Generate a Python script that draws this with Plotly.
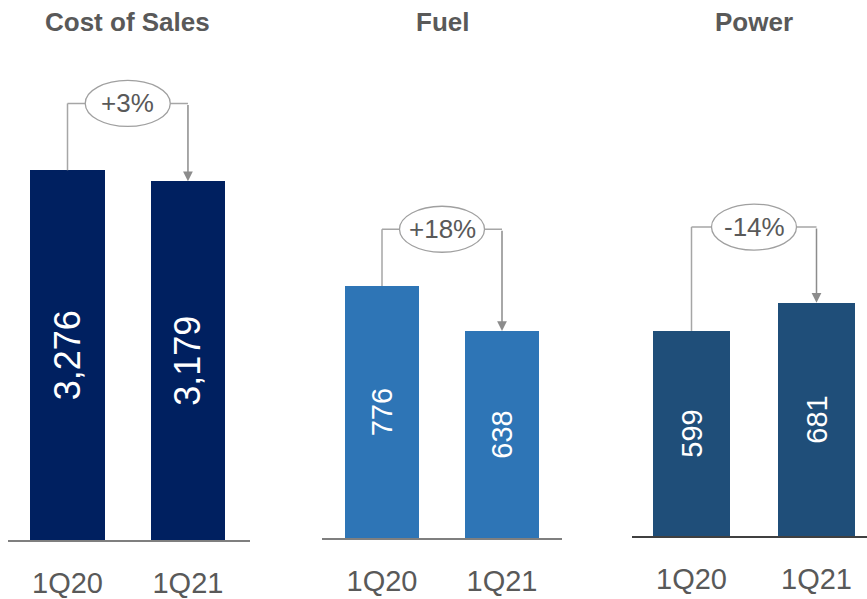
import plotly.graph_objects as go

# ---- data ----
categories = ["1Q20", "1Q21"]
panel_titles = ["Cost of Sales", "Fuel", "Power"]
cost_of_sales = [3276, 3179]
fuel = [776, 638]
power = [599, 681]
changes = ["+3%", "+18%", "-14%"]

series = [cost_of_sales, fuel, power]

# ---- layout / style settings ----
W, H = 867, 599
colors = ["#002060", "#2E75B6", "#1F4E79"]
axis_line_colors = ["#7F7F7F", "#7F7F7F", "#404040"]
baseline_px = [542, 540, 538]          # pixel y of each panel's baseline
top_px = 50                            # pixel y of top of plotting area
y_max = [4342, 1503, 1419]             # axis range maxima (per panel scale)
x_dom_px = [(8, 250), (322, 562), (632, 867)]
x_ranges = [[-0.494, 1.515], [-0.5, 1.5], [-0.476, 1.404]]
bracket_px_above = [67, 57, 76]
value_font_sizes = [36, 29, 29]
grey_text = "#595959"
connector_color = "#A6A6A6"
arrow_color = "#8C8C8C"
FONT = "Liberation Sans, Arial, sans-serif"

fig = go.Figure()
layout = dict(
    width=W, height=H,
    margin=dict(l=0, r=0, t=0, b=0),
    paper_bgcolor="white", plot_bgcolor="white",
    showlegend=False,
    bargap=0,
    font=dict(family=FONT, color=grey_text),
)

shapes = []
annotations = []

for i, vals in enumerate(series):
    n = "" if i == 0 else str(i + 1)
    xa, ya = "x" + n, "y" + n
    fig.add_trace(go.Bar(
        x=[0, 1], y=vals, width=0.62,
        marker=dict(color=colors[i], line=dict(width=0)),
        text=[f"{v:,}" for v in vals],
        textposition="inside", insidetextanchor="middle", textangle=-90,
        textfont=dict(color="white", size=value_font_sizes[i], family=FONT),
        xaxis=xa, yaxis=ya, hoverinfo="skip",
    ))
    x0p, x1p = x_dom_px[i]
    layout["xaxis" + n] = dict(
        domain=[x0p / W, x1p / W], range=x_ranges[i],
        tickvals=[0, 1], ticktext=categories,
        showline=True, linecolor=axis_line_colors[i], linewidth=2,
        ticks="outside", ticklen=16, tickcolor="rgba(0,0,0,0)",
        tickfont=dict(size=29, color=grey_text),
        showgrid=False, zeroline=False, anchor=ya, fixedrange=True,
    )
    layout["yaxis" + n] = dict(
        domain=[1 - baseline_px[i] / H, 1 - top_px / H], range=[0, y_max[i]],
        visible=False, showgrid=False, zeroline=False, anchor=xa, fixedrange=True,
    )

    per_px = y_max[i] / (baseline_px[i] - top_px)
    by = max(vals) + bracket_px_above[i] * per_px

    # left connector (up from first bar) and horizontal line
    shapes.append(dict(type="line", xref=xa, yref=ya, x0=0, x1=0, y0=vals[0], y1=by,
                       line=dict(color=connector_color, width=1.5)))
    shapes.append(dict(type="line", xref=xa, yref=ya, x0=0, x1=1, y0=by, y1=by,
                       line=dict(color=connector_color, width=1.5)))
    # ellipse label background
    shapes.append(dict(type="circle", xref=xa, yref=ya,
                       xsizemode="pixel", ysizemode="pixel",
                       xanchor=0.5, yanchor=by,
                       x0=-42.5, x1=42.5, y0=-23, y1=23,
                       fillcolor="white", line=dict(color="#A0A0A0", width=1.3)))
    # arrow down to second bar
    annotations.append(dict(x=1, y=vals[1], ax=1, ay=by, xref=xa, yref=ya,
                            axref=xa, ayref=ya, text="", showarrow=True,
                            arrowhead=2, arrowsize=1.3, arrowwidth=1.5,
                            arrowcolor=arrow_color, standoff=0))
    annotations.append(dict(x=0.5, y=by, xref=xa, yref=ya, text=changes[i],
                            showarrow=False, font=dict(size=26, color=grey_text)))
    # panel title
    annotations.append(dict(x=0.5, y=1 - 22 / H, xref=xa, yref="paper",
                            text="<b>" + panel_titles[i] + "</b>", showarrow=False,
                            yanchor="middle",
                            font=dict(size=26, color=grey_text, family=FONT)))

layout["shapes"] = shapes
layout["annotations"] = annotations
fig.update_layout(**layout)
fig.write_html(
    "out.html",
    config={"displayModeBar": False, "staticPlot": True},
    post_script="document.body.style.margin='0';document.body.style.padding='0';"
                "document.body.style.overflow='hidden';",
)
